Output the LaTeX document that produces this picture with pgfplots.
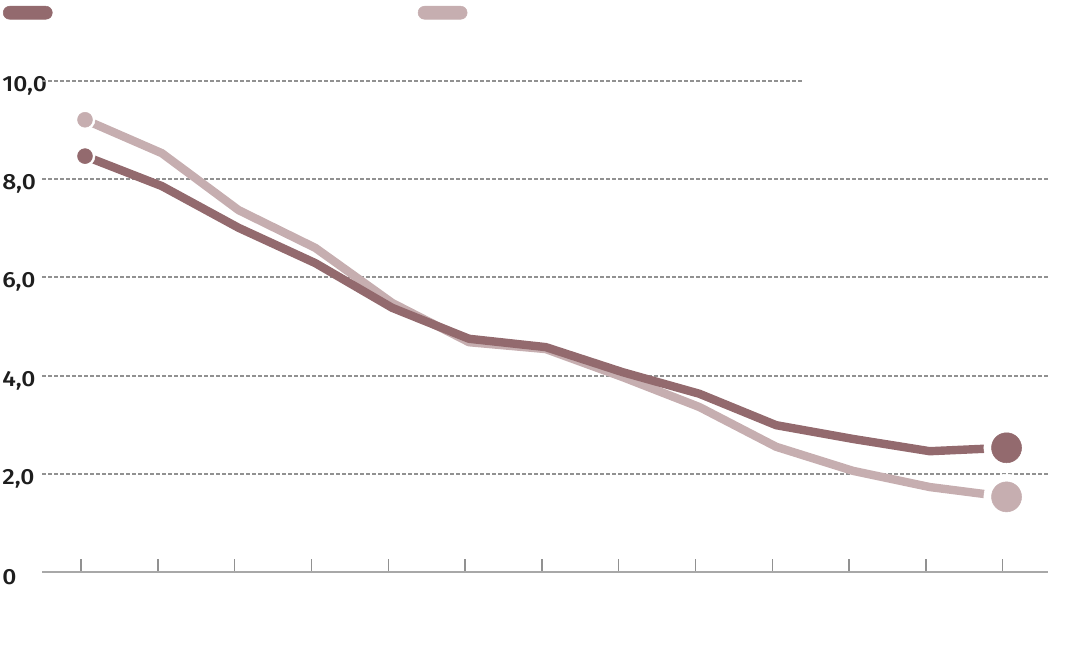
\documentclass[border=0pt]{standalone}
\usepackage{fontspec}
\setmainfont{Fira Sans}[UprightFont={* Medium}, FakeStretch=1.12]
\usepackage{pgfplots}
\usepackage{pgfplotstable}
\pgfplotsset{compat=1.18}
\definecolor{darkc}{HTML}{936A6E}
\definecolor{lightc}{HTML}{C6AEB0}
\definecolor{gridc}{HTML}{919191}
\definecolor{axc}{HTML}{A8A8A8}
\definecolor{labc}{HTML}{1E1E1E}
\pgfplotstableread{
x y
0 8.47
1 7.86
2 7.01
3 6.29
4 5.38
5 4.75
6 4.58
7 4.07
8 3.63
9 2.99
10 2.71
11 2.46
12 2.53
}\darkdata
\pgfplotstableread{
x y
0 9.21
1 8.53
2 7.37
3 6.60
4 5.48
5 4.68
6 4.54
7 3.97
8 3.36
9 2.55
10 2.06
11 1.73
12 1.53
}\lightdata
\begin{document}
\begin{tikzpicture}[x=1pt,y=1pt]
\useasboundingbox (0,0) rectangle (819,486);
\begin{axis}[
 at={(31.5pt,57pt)}, anchor=south west,
 scale only axis, width=754.5pt, height=386.66pt,
 xmin=-0.56, xmax=12.54, ymin=0, ymax=10.5,
 axis x line*=bottom, axis y line*=left,
 x axis line style={-, draw=axc, line width=1.5pt},
 y axis line style={draw=none},
 xtick={-0.05,0.95,1.95,2.95,3.95,4.95,5.95,6.95,7.95,8.95,9.95,10.95,11.95}, xticklabels={},
 ytick={0,2,4,6,8}, yticklabels={0,2{,}0,4{,}0,6{,}0,8{,}0},
 extra y ticks={10}, extra y tick labels={10{,}0},
 extra y tick style={grid=none},
 ymajorgrids, grid style={gridc, line width=1.45pt, dash pattern=on 3pt off 1.5pt},
 tick align=inside, major tick length=9.5pt,
 xtick style={gridc, line width=1pt},
 ytick style={draw=none},
 yticklabel style={anchor=west, inner sep=0pt, xshift=-30pt, yshift=-3.6pt, font=\fontsize{16.5}{16.5}\selectfont, text=labc},
 clip=false,
 legend columns=2,
 legend style={draw=none, fill=none, inner sep=0pt, outer sep=0pt, nodes={inner sep=0pt},
   at={(-0.03877,1.0979)}, anchor=north west,
   /tikz/every even column/.append style={column sep=273pt}},
 legend image code/.code={\fill[rounded corners=4.8pt] (0pt,-4.875pt) rectangle (36.75pt,4.875pt);},
]
\addlegendimage{darkc}
\addlegendentry{}
\addlegendimage{lightc}
\addlegendentry{}
% 10,0 grid line (shorter)
\addplot[gridc, line width=1.45pt, dash pattern=on 3pt off 1.5pt, forget plot] coordinates {(-0.56,10) (9.34,10)};
\addplot[lightc, line width=6.3pt, line join=round, forget plot] table {\lightdata};
\addplot[darkc, line width=6.3pt, line join=round, forget plot] table {\darkdata};
% start markers
\addplot[only marks, mark=*, mark size=7.5pt, color=white, forget plot] coordinates {(0,9.21) (0,8.47)};
\addplot[only marks, mark=*, mark size=5.6pt, color=lightc, forget plot] coordinates {(0,9.21)};
\addplot[only marks, mark=*, mark size=5.6pt, color=darkc, forget plot] coordinates {(0,8.47)};
% end markers
\addplot[only marks, mark=*, mark size=17pt, color=white, forget plot] coordinates {(12,2.53) (12,1.53)};
\addplot[only marks, mark=*, mark size=11.25pt, color=darkc, forget plot] coordinates {(12,2.53)};
\addplot[only marks, mark=*, mark size=11.25pt, color=lightc, forget plot] coordinates {(12,1.53)};
\end{axis}
\end{tikzpicture}
\end{document}
